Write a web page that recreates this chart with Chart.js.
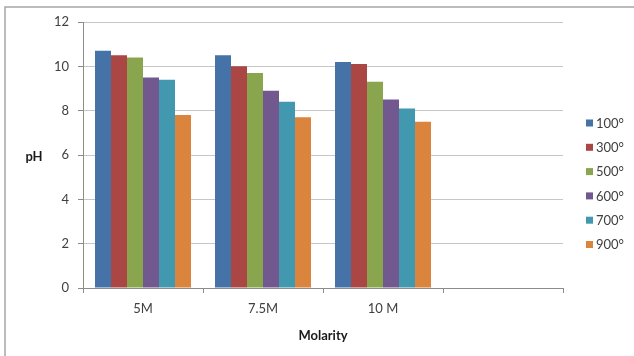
<!DOCTYPE html>
<html>
<head>
<meta charset="utf-8">
<script src="https://cdn.jsdelivr.net/npm/chart.js@4/dist/chart.umd.min.js"></script>
<style>
  html, body { margin: 0; padding: 0; background: #ffffff; }
  #wrap { width: 634px; height: 356px; position: relative; }
</style>
</head>
<body>
<div id="wrap"><canvas id="c" width="634" height="356"></canvas></div>
<script>
// Molarity groups on the x axis (the fourth slot is left empty)
const categories = ['5M', '7.5M', '10 M', ''];

// pH readings per calcination temperature
const series100 = [10.7, 10.5, 10.2];
const series300 = [10.5, 10.0, 10.1];
const series500 = [10.4, 9.7, 9.3];
const series600 = [9.5, 8.9, 8.5];
const series700 = [9.4, 8.4, 8.1];
const series900 = [7.8, 7.7, 7.5];

const seriesLabels = ['100°', '300°', '500°', '600°', '700°', '900°'];
const seriesValues = [series100, series300, series500, series600, series700, series900];
const seriesColors = ['#4572A7', '#AA4643', '#89A54E', '#71588F', '#4198AF', '#DB843D'];

const yTicks = [0, 2, 4, 6, 8, 10, 12];

const FONT = 'Lato, "Liberation Sans", sans-serif';

// Outer frame plus the horizontal "pH" caption and the side legend
const decorations = {
  id: 'decorations',
  beforeDraw(chart) {
    const ctx = chart.ctx;
    ctx.save();
    ctx.fillStyle = '#ffffff';
    ctx.fillRect(0, 0, chart.width, chart.height);
    ctx.strokeStyle = '#a6a6a6';
    ctx.lineWidth = 1.5;
    ctx.strokeRect(5, 7, chart.width + 20, chart.height + 20);
    ctx.restore();
  },
  afterDraw(chart) {
    const ctx = chart.ctx;
    ctx.save();
    ctx.fillStyle = '#1a1a1a';
    ctx.font = 'bold 13px ' + FONT;
    ctx.textAlign = 'center';
    ctx.textBaseline = 'middle';
    ctx.fillText('pH', 34, 157);

    ctx.font = '13px ' + FONT;
    ctx.textAlign = 'left';
    chart.data.datasets.forEach((ds, i) => {
      const cy = 123 + i * 24.3;
      ctx.fillStyle = ds.backgroundColor;
      ctx.fillRect(586, cy - 3.5, 7, 7);
      ctx.fillStyle = '#404040';
      ctx.fillText(ds.label, 596, cy + 0.5);
    });
    ctx.restore();
  }
};

new Chart(document.getElementById('c'), {
  type: 'bar',
  data: {
    labels: categories,
    datasets: seriesLabels.map((label, i) => ({
      label,
      data: seriesValues[i],
      backgroundColor: seriesColors[i],
      borderWidth: 0,
      categoryPercentage: 0.8,
      barPercentage: 1.0
    }))
  },
  options: {
    responsive: false,
    animation: false,
    layout: { padding: { left: 0, right: 71, top: 22, bottom: 0 } },
    plugins: {
      legend: { display: false },
      tooltip: { enabled: false }
    },
    scales: {
      x: {
        afterFit(scale) { scale.height = 68; },
        grid: {
          offset: true,
          drawOnChartArea: false,
          tickLength: 5,
          color: '#8c8c8c'
        },
        border: { display: true, color: '#8c8c8c', width: 1 },
        ticks: {
          color: '#404040',
          font: { family: FONT, size: 13 },
          padding: 8
        },
        title: {
          display: true,
          text: 'Molarity',
          color: '#1a1a1a',
          font: { family: FONT, size: 13, weight: 'bold' },
          padding: { top: 4, bottom: 12 }
        }
      },
      y: {
        min: 0,
        max: 12,
        afterFit(scale) { scale.width = 83; },
        afterBuildTicks(scale) { scale.ticks = yTicks.map(v => ({ value: v })); },
        grid: {
          color: '#c6c6c6',
          tickColor: '#8c8c8c',
          tickLength: 5
        },
        border: { display: true, color: '#8c8c8c', width: 1 },
        ticks: {
          color: '#404040',
          font: { family: FONT, size: 13 },
          padding: 9
        }
      }
    }
  },
  plugins: [decorations]
});
</script>
</body>
</html>
